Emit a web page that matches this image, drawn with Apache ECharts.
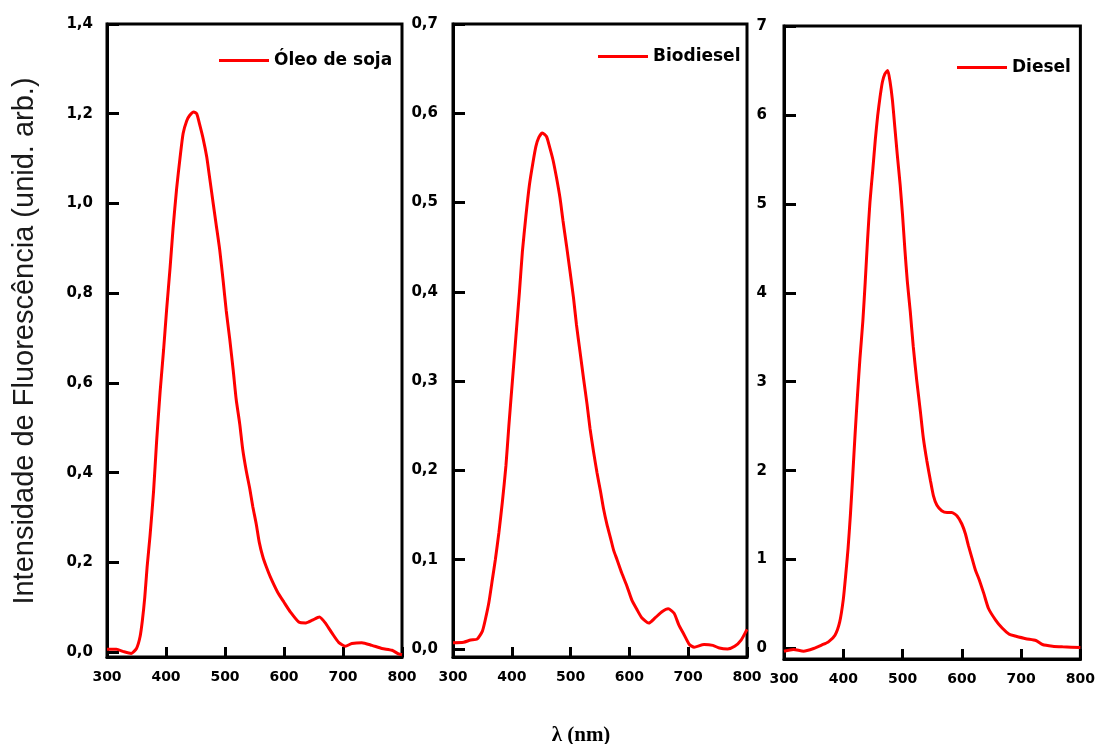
<!DOCTYPE html>
<html>
<head>
<meta charset="utf-8">
<title>Espectros de fluorescência</title>
<script src="https://cdn.jsdelivr.net/npm/echarts@6/dist/echarts.min.js"></script>
<style>
  html, body { margin: 0; padding: 0; background: #fff; }
  #chart { width: 1098px; height: 744px; }
</style>
</head>
<body>
<div id="chart"></div>
<script>
// Wavelength (nm) and fluorescence intensity (arb. units) for each sample
const wlSoja = [300, 316, 328, 341, 350, 356, 360, 364, 368, 373, 379, 384, 390, 396, 401, 407, 412, 418, 424, 429, 435, 440, 447, 452, 457, 463, 469, 474, 480, 485, 491, 497, 502, 508, 514, 519, 525, 530, 536, 542, 547, 553, 558, 564, 570, 577, 589, 600, 611, 625, 637, 648, 660, 671, 682, 693, 704, 715, 732, 749, 766, 783, 794, 800];
const ySoja = [0.006, 0.006, 0.001, -0.003, 0.008, 0.034, 0.071, 0.122, 0.19, 0.26, 0.36, 0.468, 0.58, 0.675, 0.762, 0.858, 0.945, 1.033, 1.104, 1.156, 1.184, 1.196, 1.204, 1.2, 1.176, 1.144, 1.104, 1.057, 1.0, 0.953, 0.897, 0.826, 0.762, 0.698, 0.627, 0.563, 0.508, 0.452, 0.404, 0.364, 0.325, 0.285, 0.245, 0.213, 0.19, 0.167, 0.134, 0.111, 0.089, 0.067, 0.065, 0.071, 0.078, 0.063, 0.041, 0.021, 0.013, 0.019, 0.021, 0.015, 0.008, 0.004, -0.004, -0.006];

const wlBio = [300, 318, 330, 341, 350, 355, 361, 367, 372, 378, 384, 390, 395, 401, 407, 413, 418, 424, 430, 436, 441, 446, 452, 459, 464, 470, 476, 482, 487, 493, 499, 505, 510, 516, 522, 528, 533, 539, 545, 551, 556, 562, 568, 573, 579, 587, 596, 604, 613, 621, 633, 644, 656, 666, 676, 684, 693, 702, 710, 727, 742, 753, 767, 779, 790, 800];
const yBio = [0.007, 0.0075, 0.01, 0.011, 0.02, 0.033, 0.052, 0.078, 0.1, 0.13, 0.165, 0.205, 0.25, 0.3, 0.35, 0.4, 0.445, 0.485, 0.52, 0.545, 0.563, 0.573, 0.578, 0.574, 0.563, 0.548, 0.528, 0.505, 0.48, 0.452, 0.423, 0.393, 0.363, 0.333, 0.303, 0.274, 0.247, 0.221, 0.197, 0.176, 0.157, 0.139, 0.124, 0.111, 0.1, 0.085, 0.07, 0.055, 0.044, 0.035, 0.029, 0.035, 0.042, 0.045, 0.04, 0.027, 0.016, 0.005, 0.002, 0.005, 0.004, 0.001, 0.0, 0.003, 0.01, 0.022];

const wlDiesel = [300, 316, 333, 350, 364, 375, 386, 394, 400, 404, 408, 412, 416, 420, 424, 428, 433, 437, 441, 445, 450, 454, 458, 462, 466, 470, 475, 479, 483, 487, 491, 496, 500, 504, 508, 513, 518, 524, 530, 535, 541, 547, 552, 558, 566, 575, 583, 592, 600, 606, 611, 617, 623, 629, 637, 645, 657, 668, 680, 690, 708, 725, 736, 753, 770, 800];
const yDiesel = [-0.03, -0.01, -0.03, 0.0, 0.04, 0.075, 0.15, 0.3, 0.55, 0.82, 1.12, 1.5, 1.95, 2.42, 2.85, 3.25, 3.68, 4.12, 4.6, 5.02, 5.4, 5.72, 5.99, 6.2, 6.37, 6.46, 6.5, 6.37, 6.16, 5.86, 5.56, 5.21, 4.87, 4.48, 4.13, 3.79, 3.4, 3.01, 2.67, 2.37, 2.11, 1.89, 1.72, 1.61, 1.55, 1.53, 1.53, 1.49, 1.4, 1.29, 1.16, 1.02, 0.88, 0.78, 0.62, 0.45, 0.32, 0.23, 0.16, 0.14, 0.11, 0.09, 0.045, 0.026, 0.019, 0.011];

// Axis tick values
const ticksSoja = [0, 0.2, 0.4, 0.6, 0.8, 1.0, 1.2, 1.4];
const ticksBio = [0, 0.1, 0.2, 0.3, 0.4, 0.5, 0.6, 0.7];
const ticksDiesel = [0, 1, 2, 3, 4, 5, 6, 7];

const seriesNames = ['Óleo de soja', 'Biodiesel', 'Diesel'];

const pairs = (xs, ys) => xs.map((x, i) => [x, ys[i]]);
const comma = (v) => v.toFixed(1).replace('.', ',');

const labelFont = { fontFamily: 'DejaVu Sans', fontWeight: 'bold', fontSize: 14, color: '#000' };
const blackLine = { color: '#000', width: 3 };

function xAxisFor(gridIndex) {
  return {
    type: 'value', gridIndex, min: 300, max: 800, interval: 100,
    axisLine: { show: true, onZero: false, lineStyle: blackLine },
    axisTick: { inside: true, length: 10, lineStyle: blackLine },
    axisLabel: Object.assign({ margin: 13 }, labelFont),
    splitLine: { show: false }
  };
}

function yAxisFor(gridIndex, min, max, ticks, fmt, margin) {
  return {
    type: 'value', gridIndex, min, max,
    axisLine: { show: true, onZero: false, lineStyle: blackLine },
    axisTick: { inside: true, length: 12, lineStyle: blackLine, customValues: ticks },
    axisLabel: Object.assign({ margin, customValues: ticks, formatter: fmt }, labelFont, { fontSize: 15 }),
    splitLine: { show: false }
  };
}

function legendFor(name, left, top) {
  return {
    data: [name], left, top, padding: 0, selectedMode: false,
    icon: 'rect', itemWidth: 50, itemHeight: 3,
    textStyle: { fontFamily: 'DejaVu Sans', fontWeight: 'bold', fontSize: 17, color: '#000' }
  };
}

function lineSeries(name, idx, data) {
  return {
    name, type: 'line', xAxisIndex: idx, yAxisIndex: idx, data,
    showSymbol: false, symbol: 'none', smooth: 0.2,
    lineStyle: { color: '#ff0000', width: 3 },
    itemStyle: { color: '#ff0000' },
    animation: false
  };
}

const gridBox = { show: true, borderColor: '#000', borderWidth: 3, backgroundColor: 'transparent' };

const chart = echarts.init(document.getElementById('chart'), null, { renderer: 'canvas' });
chart.setOption({
  backgroundColor: '#fff',
  animation: false,
  grid: [
    Object.assign({ left: 107, top: 24, width: 295, height: 633 }, gridBox),
    Object.assign({ left: 453, top: 24, width: 294, height: 633 }, gridBox),
    Object.assign({ left: 784, top: 26, width: 298, height: 633 }, gridBox)
  ],
  xAxis: [xAxisFor(0), xAxisFor(1), xAxisFor(2)],
  yAxis: [
    yAxisFor(0, -0.011, 1.4, ticksSoja, comma, 14),
    yAxisFor(1, -0.009, 0.7, ticksBio, comma, 15),
    yAxisFor(2, -0.118, 7.0, ticksDiesel, (v) => String(Math.round(v)), 17)
  ],
  legend: [
    legendFor(seriesNames[0], 219, 52),
    legendFor(seriesNames[1], 598, 48),
    legendFor(seriesNames[2], 957, 59)
  ],
  series: [
    lineSeries(seriesNames[0], 0, pairs(wlSoja, ySoja)),
    lineSeries(seriesNames[1], 1, pairs(wlBio, yBio)),
    lineSeries(seriesNames[2], 2, pairs(wlDiesel, yDiesel))
  ],
  graphic: [
    {
      type: 'text', x: 25, y: 341, rotation: Math.PI / 2,
      style: {
        text: 'Intensidade de Fluorescência (unid. arb.)',
        font: '29px "Liberation Sans", Arial, sans-serif',
        fill: '#1a1a1a', align: 'center', verticalAlign: 'middle'
      }
    },
    {
      type: 'text', x: 581, y: 736,
      style: {
        text: 'λ (nm)',
        font: 'bold 21px "Liberation Serif", "DejaVu Serif", serif',
        fill: '#000', align: 'center', verticalAlign: 'middle'
      }
    }
  ]
});
</script>
</body>
</html>
